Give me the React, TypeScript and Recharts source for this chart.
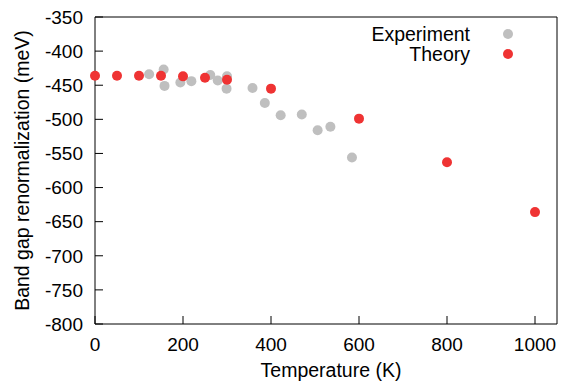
import { Legend, Scatter, ScatterChart, XAxis, YAxis } from "recharts";

// Band gap renormalization (meV) vs temperature (K)
const theoryT = [0, 50, 100, 150, 200, 250, 300, 400, 600, 800, 1000];
const theoryGap = [-436, -436, -436, -436, -437, -439, -442, -455, -499, -563, -636];

const experimentT = [123, 156, 158, 194, 219, 262, 279, 300, 299, 358, 386, 422, 470, 506, 535, 584];
const experimentGap = [-434, -427, -451, -446, -444, -435, -443, -437, -455, -454, -476, -494, -493, -516, -511, -556];

const xTicks = [0, 200, 400, 600, 800, 1000];
const yTicks = [-800, -750, -700, -650, -600, -550, -500, -450, -400, -350];

const theory = theoryT.map((t, i) => ({ t, gap: theoryGap[i] }));
const experiment = experimentT.map((t, i) => ({ t, gap: experimentGap[i] }));

const GRAY = "#bfbfbf";
const RED = "#ef3333";
const FONT = '"Liberation Sans", Arial, sans-serif';
const LABEL_SIZE = 19.5;

function Dot(color: string) {
  return (props: { cx?: number; cy?: number }) => (
    <circle cx={props.cx} cy={props.cy} r={5} fill={color} />
  );
}

// mirrored axes only show their tick marks
const NoLabel = () => <g />;

function LegendBox() {
  const rows = [
    { name: "Experiment", color: GRAY },
    { name: "Theory", color: RED },
  ];
  return (
    <div style={{ fontFamily: FONT, fontSize: LABEL_SIZE, color: "#000" }}>
      {rows.map((r) => (
        <div key={r.name} style={{ display: "flex", alignItems: "center", height: 20 }}>
          <span style={{ width: 110, textAlign: "right", lineHeight: "20px" }}>{r.name}</span>
          <span
            style={{
              marginLeft: 33,
              width: 10,
              height: 10,
              borderRadius: 5,
              background: r.color,
              display: "inline-block",
            }}
          />
        </div>
      ))}
    </div>
  );
}

export default function App() {
  const tickStyle = { fill: "#000", fontSize: 19, fontFamily: FONT };
  const axisLine = { stroke: "#000", strokeWidth: 1 };
  return (
    <div style={{ position: "absolute", left: 0, top: 0, background: "#fff" }}>
      <ScatterChart
        width={564}
        height={387}
        margin={{ top: 16, right: 6, bottom: 23, left: 0 }}
        style={{ fontFamily: FONT }}
      >
        <XAxis
          dataKey="t"
          type="number"
          domain={[0, 1050]}
          ticks={xTicks}
          height={40}
          tick={tickStyle}
          tickSize={-8}
          tickMargin={22}
          axisLine={axisLine}
          tickLine={axisLine}
          label={{
            content: ({ viewBox }: any) => (
              <text
                x={viewBox.x + viewBox.width / 2 + 5}
                y={viewBox.y + viewBox.height + 13}
                textAnchor="middle"
                fontSize={LABEL_SIZE}
                fontFamily={FONT}
                fill="#000"
              >
                Temperature (K)
              </text>
            ),
          }}
        />
        <XAxis
          xAxisId="top"
          orientation="top"
          type="number"
          domain={[0, 1050]}
          ticks={xTicks}
          height={1}
          tick={NoLabel}
          tickSize={-8}
          axisLine={axisLine}
          tickLine={axisLine}
        />
        <YAxis
          dataKey="gap"
          type="number"
          domain={[-800, -350]}
          ticks={yTicks}
          width={95}
          tick={tickStyle}
          tickSize={-8}
          tickMargin={20}
          axisLine={axisLine}
          tickLine={axisLine}
          label={{
            content: ({ viewBox }: any) => (
              <text
                transform={`translate(${viewBox.x + 28.5}, ${viewBox.y + viewBox.height / 2}) rotate(-90)`}
                textAnchor="middle"
                fontSize={LABEL_SIZE}
                fontFamily={FONT}
                fill="#000"
              >
                Band gap renormalization (meV)
              </text>
            ),
          }}
        />
        <YAxis
          yAxisId="right"
          orientation="right"
          type="number"
          domain={[-800, -350]}
          ticks={yTicks}
          width={1}
          tick={NoLabel}
          tickSize={-8}
          axisLine={axisLine}
          tickLine={axisLine}
        />
        <Legend
          layout="vertical"
          align="center"
          verticalAlign="middle"
          wrapperStyle={{ top: 24, left: 360, width: 160 }}
          content={() => <LegendBox />}
        />
        <Scatter
          name="Experiment"
          data={experiment}
          shape={Dot(GRAY)}
          isAnimationActive={false}
        />
        <Scatter
          name="Theory"
          data={theory}
          shape={Dot(RED)}
          isAnimationActive={false}
        />
      </ScatterChart>
    </div>
  );
}
